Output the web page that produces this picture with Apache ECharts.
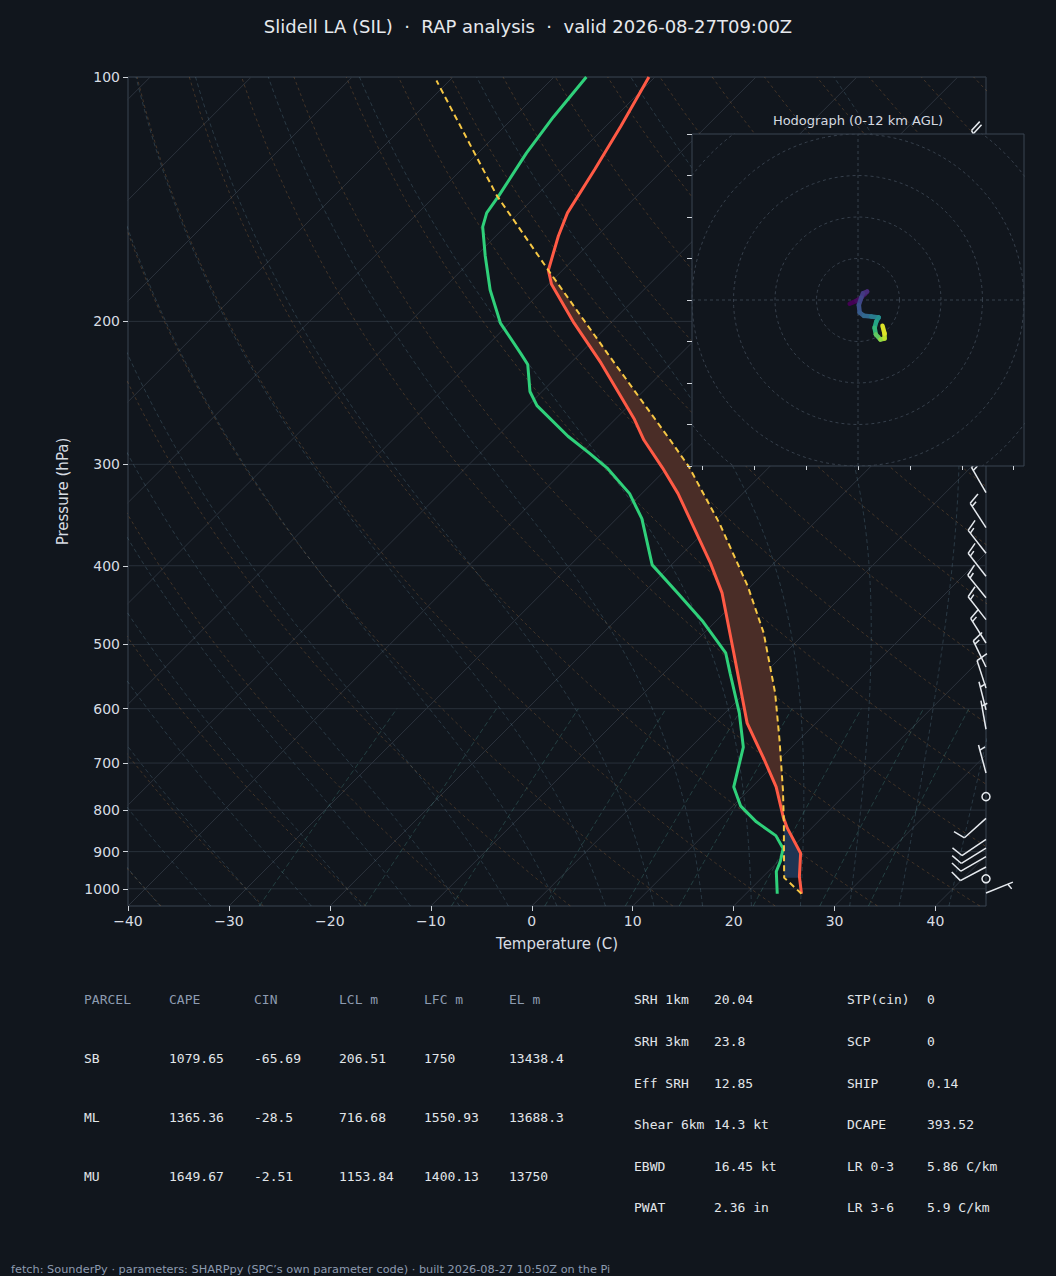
<!DOCTYPE html>
<html>
<head>
<meta charset="utf-8">
<title>Slidell LA (SIL) skew-T</title>
<script src="https://cdn.jsdelivr.net/npm/echarts@6.0.0/dist/echarts.min.js"></script>
<style>
html, body { margin: 0; padding: 0; background: #11161d; }
#main { width: 1056px; height: 1276px; }
</style>
</head>
<body>
<div id="main"></div>
<script>
// sounding values (hPa, degC)
var tempP = [1014, 966, 904, 842, 816, 749, 693, 625, 512, 432, 397, 326, 303, 280, 264, 225, 201, 180, 173, 157, 147, 130, 115, 100];
var tempC = [25.5, 23.6, 21.4, 17.6, 16.1, 12.4, 8.5, 3.2, -5.1, -12.2, -16.3, -26.4, -30.5, -35.1, -38.1, -47.0, -53.6, -59.7, -61.4, -63.8, -65.2, -66.8, -68.5, -70.6];

var dewP = [1014, 952, 925, 892, 860, 827, 791, 749, 669, 607, 543, 512, 469, 432, 399, 350, 326, 303, 291, 277, 254, 244, 226, 219, 201, 183, 166, 153, 147, 140, 124, 112, 100];
var dewC = [23.1, 20.8, 20.2, 19.2, 17.2, 13.9, 10.8, 8.2, 5.2, 1.4, -3.4, -5.9, -11.2, -16.6, -21.9, -27.5, -31.2, -36.0, -39.1, -43.0, -49.1, -51.2, -54.1, -55.9, -60.9, -65.2, -69.1, -72.2, -73.2, -73.7, -75.2, -76.1, -76.8];

var parcelP = [1014, 969, 895, 831, 756, 656, 574, 484, 424, 355, 302, 280, 219, 173, 140, 101];
var parcelC = [25.5, 22.2, 19.4, 16.8, 13.4, 8.1, 3.0, -4.1, -10.3, -19.3, -28.0, -32.5, -47.3, -61.4, -73.9, -91.3];
var cinBaseP = 969;

// wind barbs (hPa, direction deg, speed kt)
var barbP = [125, 325, 359, 386, 412, 438, 466, 498, 533, 566, 602, 636, 720, 770, 819, 869, 891, 913, 940, 972, 1012];
var barbDir = [330, 330, 327, 322, 322, 321, 322, 328, 334, 342, 346, 350, 345, 0, 228, 236, 238, 240, 242, 0, 68];
var barbSpd = [20, 15, 15, 15, 15, 15, 15, 15, 15, 10, 5, 5, 5, 0, 10, 10, 10, 10, 10, 0, 5];

// hodograph (kt) and height (km)
var hodoU = [-2.0, -0.4, 0.8, 1.6, 2.2, 1.2, 0.8, 0.2, 0.4, 1.4, 3.2, 5.0, 4.4, 4.0, 4.3, 5.4, 6.4, 6.4, 5.9];
var hodoV = [-0.9, -0.2, 0.6, 1.4, 2.0, 1.6, 0.6, -1.2, -3.0, -3.8, -4.0, -4.2, -5.2, -6.7, -8.3, -9.5, -9.3, -8.1, -6.2];
var hodoH = [0, 0.3, 0.6, 1.0, 1.5, 2.0, 2.5, 3.0, 3.5, 4.0, 5.0, 6.0, 7.0, 8.0, 9.0, 10.0, 10.8, 11.4, 12.0];

var pTicks = [100, 200, 300, 400, 500, 600, 700, 800, 900, 1000];
var tTicks = [-40, -30, -20, -10, 0, 10, 20, 30, 40];
var hodoXTicks = [-37.5, -25, -12.5, 0, 12.5, 25, 37.5];
var hodoRings = [10, 20, 30, 40, 50];

// table
var parcelHead = ['PARCEL', 'CAPE', 'CIN', 'LCL m', 'LFC m', 'EL m'];
var parcelNames = ['SB', 'ML', 'MU'];
var capeVals = ['1079.65', '1365.36', '1649.67'];
var cinVals = ['-65.69', '-28.5', '-2.51'];
var lclVals = ['206.51', '716.68', '1153.84'];
var lfcVals = ['1750', '1550.93', '1400.13'];
var elVals = ['13438.4', '13688.3', '13750'];
var idxNames1 = ['SRH 1km', 'SRH 3km', 'Eff SRH', 'Shear 6km', 'EBWD', 'PWAT'];
var idxVals1 = ['20.04', '23.8', '12.85', '14.3 kt', '16.45 kt', '2.36 in'];
var idxNames2 = ['STP(cin)', 'SCP', 'SHIP', 'DCAPE', 'LR 0-3', 'LR 3-6'];
var idxVals2 = ['0', '0', '0.14', '393.52', '5.86 C/km', '5.9 C/km'];

var K = 80.5, PBOT = 1050, PTOP = 100;
function lp(p) { return Math.log10(p); }
function skewX(t, p) { return t + K * Math.log10(PBOT / p); }
function profile(ps, ts) {
  return ps.map(function (p, i) { return [skewX(ts[i], p), lp(p)]; });
}

var series = [];
function addLine(data, color, width, type, z) {
  series.push({
    type: 'line', xAxisIndex: 0, yAxisIndex: 0, data: data, symbol: 'none',
    silent: true, animation: false, z: z,
    lineStyle: { color: color, width: width, type: type }
  });
}

// isobars, isotherms
pTicks.forEach(function (p) { addLine([[-40, lp(p)], [45, lp(p)]], '#29313b', 1, 'solid', 1); });
for (var t = -130; t <= 50; t += 10) {
  addLine([[skewX(t, PBOT), lp(PBOT)], [skewX(t, PTOP), lp(PTOP)]], '#2c333d', 1, 'solid', 1);
}
// dry adiabats
for (var t0 = -40; t0 <= 200; t0 += 10) {
  var d = [];
  for (var p = PBOT; p >= PTOP; p -= 10) {
    d.push([skewX((t0 + 273.15) * Math.pow(p / 1000, 0.2857) - 273.15, p), lp(p)]);
  }
  addLine(d, 'rgba(160,110,60,0.35)', 1, [3, 3], 1);
}
// moist adiabats
function dTdp(T, p) {
  var Rd = 287.04, cp = 1005.7, Lv = 2.501e6, eps = 0.622;
  var tc = T - 273.15;
  var es = 6.112 * Math.exp(17.67 * tc / (tc + 243.5));
  var rs = eps * es / (p - es);
  return (Rd * T + Lv * rs) / p / (cp + Lv * Lv * rs * eps / (Rd * T * T));
}
function moist(t0) {
  var up = [], T = t0 + 273.15, p = 1000, dp = -5;
  up.push([skewX(t0, p), lp(p)]);
  while (p > PTOP) {
    var k1 = dTdp(T, p);
    var k2 = dTdp(T + k1 * dp, p + dp);
    T += 0.5 * (k1 + k2) * dp; p += dp;
    up.push([skewX(T - 273.15, p), lp(p)]);
  }
  var down = []; T = t0 + 273.15; p = 1000;
  while (p < PBOT) {
    var a1 = dTdp(T, p);
    var a2 = dTdp(T + a1 * 5, p + 5);
    T += 0.5 * (a1 + a2) * 5; p += 5;
    down.unshift([skewX(T - 273.15, p), lp(p)]);
  }
  return down.concat(up);
}
for (var m = -50; m <= 45; m += 5) addLine(moist(m), 'rgba(100,140,160,0.3)', 1, [4, 3], 1);
// mixing ratio lines
[0.0004, 0.001, 0.002, 0.004, 0.007, 0.01, 0.016, 0.024, 0.032].forEach(function (w) {
  var d = [];
  for (var p = PBOT; p >= 600; p -= 25) {
    var e = w * p / (0.622 + w), l = Math.log(e / 6.112);
    d.push([skewX(243.5 * l / (17.67 - l), p), lp(p)]);
  }
  addLine(d, 'rgba(80,160,150,0.3)', 1, [5, 3], 1);
});

// CAPE / CIN fills
function interp(ps, vs, p) {
  for (var i = 0; i < ps.length - 1; i++) {
    if (p <= ps[i] && p >= ps[i + 1]) {
      var f = (lp(p) - lp(ps[i])) / (lp(ps[i + 1]) - lp(ps[i]));
      return vs[i] + f * (vs[i + 1] - vs[i]);
    }
  }
  return NaN;
}
var levels = tempP.concat(parcelP).filter(function (p, i, a) {
  return a.indexOf(p) === i && p <= 1014 && p >= 101;
}).sort(function (a, b) { return b - a; });
var segs = [], cur = null;
levels.forEach(function (p, i) {
  var T = interp(tempP, tempC, p), Tp = interp(parcelP, parcelC, p), dd = Tp - T;
  var sgn = dd > 0 ? 1 : (dd < 0 ? -1 : 0);
  if (cur && sgn !== cur.sgn && i > 0) {
    var pp = levels[i - 1], T0 = interp(tempP, tempC, pp), P0 = interp(parcelP, parcelC, pp);
    var d0 = P0 - T0, f = d0 / (d0 - dd);
    var pc = Math.pow(10, lp(pp) + f * (lp(p) - lp(pp)));
    var tcx = interp(tempP, tempC, pc);
    cur.pts.push([pc, tcx, tcx]);
    segs.push(cur); cur = null;
    if (sgn !== 0) cur = { sgn: sgn, pts: [[pc, tcx, tcx]] };
  }
  if (!cur && sgn !== 0) cur = { sgn: sgn, pts: [] };
  if (cur) cur.pts.push([p, T, Tp]);
});
if (cur) segs.push(cur);
var fills = [];
segs.forEach(function (s) {
  var pts = s.pts;
  if (s.sgn < 0) {
    pts = pts.filter(function (q) { return q[0] <= cinBaseP; });
    if (!pts.length || pts[0][0] < 500) return;
  }
  var poly = pts.map(function (q) { return [skewX(q[2], q[0]), lp(q[0])]; });
  pts.slice().reverse().forEach(function (q) { poly.push([skewX(q[1], q[0]), lp(q[0])]); });
  fills.push({ poly: poly, color: s.sgn > 0 ? '#4a2d27' : '#1f3452' });
});
fills.forEach(function (fl) {
  series.push({
    type: 'custom', xAxisIndex: 0, yAxisIndex: 0, silent: true, animation: false, z: 2,
    data: [[0, 2]],
    renderItem: function (params, api) {
      return { type: 'polygon', shape: { points: fl.poly.map(function (q) { return api.coord(q); }) },
        style: { fill: fl.color } };
    }
  });
});

// profiles
series.push({ type: 'line', xAxisIndex: 0, yAxisIndex: 0, data: profile(parcelP, parcelC), symbol: 'none',
  silent: true, animation: false, z: 4, lineStyle: { color: '#f6c744', width: 2, type: [6, 4] } });
series.push({ type: 'line', xAxisIndex: 0, yAxisIndex: 0, data: profile(tempP, tempC), symbol: 'none',
  silent: true, animation: false, z: 3, lineStyle: { color: '#ff5a45', width: 3 } });
series.push({ type: 'line', xAxisIndex: 0, yAxisIndex: 0, data: profile(dewP, dewC), symbol: 'none',
  silent: true, animation: false, z: 3, lineStyle: { color: '#2fd07a', width: 3 } });

// wind barbs on the right edge
series.push({
  type: 'custom', xAxisIndex: 0, yAxisIndex: 0, silent: true, animation: false, z: 5,
  data: barbP.map(function (p, i) { return [45, lp(p), barbDir[i], barbSpd[i]]; }),
  renderItem: function (params, api) {
    var base = api.coord([api.value(0), api.value(1)]);
    var dir = api.value(2), spd = api.value(3);
    var st = { stroke: '#e6eaef', lineWidth: 1.5, fill: null };
    if (spd < 2.5) return { type: 'circle', shape: { cx: base[0], cy: base[1], r: 4 }, style: st };
    var a = dir * Math.PI / 180, ux = Math.sin(a), uy = -Math.cos(a), px = -uy, py = ux;
    var L = 29, H = 0.4 * L, W = 0.25 * L, sp = 0.125 * L;
    function pt(o, h) { return [base[0] + ux * o + px * h, base[1] + uy * o + py * h]; }
    var kids = [{ type: 'polyline', shape: { points: [pt(0, 0), pt(L, 0)] }, style: st }];
    var s = Math.round(spd / 5) * 5, nFull = Math.floor(s / 10), half = s % 10 >= 5, o = L;
    for (var i = 0; i < nFull; i++) {
      kids.push({ type: 'polyline', shape: { points: [pt(o, 0), pt(o + W / 2, H)] }, style: st });
      o -= sp;
    }
    if (half) {
      if (o === L) o -= 1.5 * sp;
      kids.push({ type: 'polyline', shape: { points: [pt(o, 0), pt(o + W / 4, H / 2)] }, style: st });
    }
    return { type: 'group', children: kids };
  }
});

// hodograph
var hodoZ = 12;
hodoRings.forEach(function (r) {
  var d = [];
  for (var ang = 0; ang <= 360; ang += 3) d.push([r * Math.cos(ang * Math.PI / 180), r * Math.sin(ang * Math.PI / 180)]);
  series.push({ type: 'line', xAxisIndex: 1, yAxisIndex: 1, data: d, symbol: 'none', silent: true,
    animation: false, z: hodoZ, clip: true, lineStyle: { color: '#37404c', width: 1, type: [3, 3] } });
});
[[[-40, 0], [40, 0]], [[0, -40], [0, 40]]].forEach(function (d) {
  series.push({ type: 'line', xAxisIndex: 1, yAxisIndex: 1, data: d, symbol: 'none', silent: true,
    animation: false, z: hodoZ, lineStyle: { color: '#37404c', width: 1, type: [3, 3] } });
});
// one segment per item, coloured by height through the visualMap
series.push({
  type: 'custom', xAxisIndex: 1, yAxisIndex: 1, silent: true, animation: false, z: hodoZ + 1,
  data: hodoU.slice(0, -1).map(function (u, i) { return [u, hodoV[i], hodoH[i], hodoU[i + 1], hodoV[i + 1]]; }),
  renderItem: function (params, api) {
    var a = api.coord([api.value(0), api.value(1)]), b = api.coord([api.value(3), api.value(4)]);
    return { type: 'line', shape: { x1: a[0], y1: a[1], x2: b[0], y2: b[1] },
      style: { stroke: api.visual('color'), lineWidth: 4.5, lineCap: 'round' } };
  }
});
var hodoSeriesIndex = series.length - 1;

// text
var graphics = [];
function txt(x, y, s, color, font, align) {
  graphics.push({ type: 'text', x: x, y: y, z: 30, silent: true,
    style: { text: s, fill: color, font: font, textAlign: align || 'left', textVerticalAlign: 'middle' } });
}
var mono = '13px "DejaVu Sans Mono"';
var headC = '#8d9bb0', valC = '#e2e6ea';
var colX = [84, 169, 254, 339, 424, 509], rowY = [999, 1058, 1117, 1176];
parcelHead.forEach(function (h, i) { txt(colX[i], rowY[0], h, headC, mono); });
parcelNames.forEach(function (n, r) {
  [n, capeVals[r], cinVals[r], lclVals[r], lfcVals[r], elVals[r]].forEach(function (v, c) {
    txt(colX[c], rowY[r + 1], v, valC, mono);
  });
});
var idxY = [999, 1041, 1083, 1124, 1166, 1207];
idxNames1.forEach(function (n, i) {
  txt(634, idxY[i], n, valC, mono); txt(714, idxY[i], idxVals1[i], valC, mono);
  txt(847, idxY[i], idxNames2[i], valC, mono); txt(927, idxY[i], idxVals2[i], valC, mono);
});
txt(11, 1269, 'fetch: SounderPy \u00b7 parameters: SHARPpy (SPC\u2019s own parameter code) \u00b7 built 2026-08-27 10:50Z on the Pi',
  '#8d9bb0', '11.3px "DejaVu Sans"');
txt(858, 120, 'Hodograph (0-12 km AGL)', '#d5dae0', '13px "DejaVu Sans"', 'center');

var tickStyle = { color: '#cfd4da' };
var option = {
  backgroundColor: '#11161d',
  animation: false,
  textStyle: { fontFamily: 'DejaVu Sans' },
  title: {
    text: 'Slidell LA (SIL)  \u00b7  RAP analysis  \u00b7  valid 2026-08-27T09:00Z',
    left: 'center', top: 17, padding: 0,
    textStyle: { color: '#e6e9ed', fontSize: 18, fontWeight: 'normal', fontFamily: 'DejaVu Sans' }
  },
  grid: [
    { left: 128, top: 77, width: 858, height: 829, show: true, borderColor: '#3a4452', borderWidth: 1,
      backgroundColor: 'transparent' },
    { left: 692, top: 134, width: 332, height: 332, show: true, borderColor: '#3a4452', borderWidth: 1,
      backgroundColor: '#11161d', z: 10 }
  ],
  xAxis: [
    { gridIndex: 0, type: 'value', min: -40, max: 45, interval: 10,
      name: 'Temperature (C)', nameLocation: 'middle', nameGap: 30,
      nameTextStyle: { color: '#d8dde3', fontSize: 15 },
      axisLine: { show: false, onZero: false }, splitLine: { show: false },
      axisTick: { show: true, length: 5, lineStyle: tickStyle, customValues: tTicks },
      axisLabel: { color: '#d8dde3', fontSize: 14, margin: 8, customValues: tTicks,
        formatter: function (v) { return v < 0 ? '\u2212' + Math.abs(v) : String(v); } } },
    { gridIndex: 1, type: 'value', min: -40, max: 40, z: 11,
      axisLine: { show: false, onZero: false }, splitLine: { show: false }, axisLabel: { show: false },
      axisTick: { show: true, length: 4, lineStyle: tickStyle, customValues: hodoXTicks } }
  ],
  yAxis: [
    { gridIndex: 0, type: 'value', min: lp(PTOP), max: lp(PBOT), inverse: true,
      name: 'Pressure (hPa)', nameLocation: 'middle', nameGap: 58,
      nameTextStyle: { color: '#d8dde3', fontSize: 15 },
      axisLine: { show: false, onZero: false }, splitLine: { show: false },
      axisTick: { show: true, length: 5, lineStyle: tickStyle, customValues: pTicks.map(lp) },
      axisLabel: { color: '#d8dde3', fontSize: 14, margin: 8, customValues: pTicks.map(lp),
        formatter: function (v) { return String(Math.round(Math.pow(10, v))); } } },
    { gridIndex: 1, type: 'value', min: -40, max: 40, interval: 10, z: 11,
      axisLine: { show: false, onZero: false }, splitLine: { show: false }, axisLabel: { show: false },
      axisTick: { show: true, length: 5, lineStyle: tickStyle } }
  ],
  visualMap: {
    show: false, type: 'continuous', seriesIndex: hodoSeriesIndex, dimension: 2, min: 0, max: 12,
    inRange: { color: ['#440154', '#482878', '#3e4989', '#31688e', '#26828e', '#1f9e89', '#35b779', '#6ece58', '#b5de2b', '#fde725'] }
  },
  graphic: graphics,
  series: series
};

var chart = echarts.init(document.getElementById('main'), null, { renderer: 'svg' });
chart.setOption(option);
</script>
</body>
</html>
